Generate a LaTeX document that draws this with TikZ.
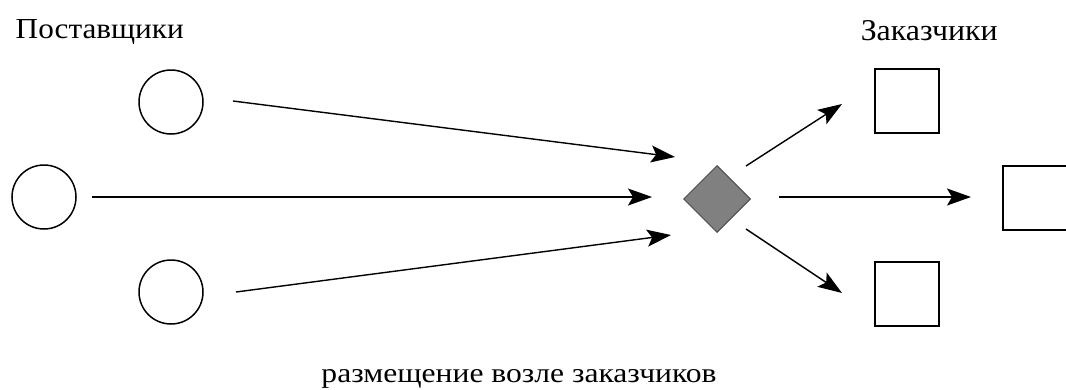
\documentclass[tikz,border=0pt]{standalone}
\usepackage{fontspec}
\setmainfont{Liberation Serif}
\usetikzlibrary{arrows.meta,shapes.geometric}
\begin{document}
\begin{tikzpicture}[x=1pt,y=-1pt,
  line width=1.5pt,
  lbl/.style={font=\fontsize{26}{30}\selectfont, inner sep=0pt},
  supplier/.style={circle, draw, minimum size=64pt, inner sep=0pt},
  customer/.style={rectangle, draw, minimum size=64pt, inner sep=0pt},
  hubnode/.style={diamond, draw=black!70, line width=1pt, fill=black!50, aspect=1, minimum size=67pt, inner sep=0pt},
  arr/.style={-{Stealth[length=24pt,width=17pt,inset=5pt]}, line width=1.4pt}]
\useasboundingbox (0,0) rectangle (1066,389);

% labels
\node[lbl, anchor=base west] (sup) at (15,38) {\resizebox{168pt}{19pt}{Поставщики}};
\node[lbl, anchor=base west] (cus) at (860,40) {\resizebox{137pt}{20pt}{Заказчики}};
\node[lbl, anchor=base] (cap) at (519,382) {\resizebox{395pt}{13pt}{размещение возле заказчиков}};

% suppliers
\node[supplier] (s1) at (171,102) {};
\node[supplier] (s2) at (44,197) {};
\node[supplier] (s3) at (171,292) {};

% warehouse
\node[hubnode] (hub) at (717,199) {};

% customers
\node[customer] (c1) at (907,101) {};
\node[customer] (c2) at (1035,198) {};
\node[customer] (c3) at (907,294) {};

% connector ends
\coordinate (i1a) at (233,101); \coordinate (i1b) at (675,157);
\coordinate (i2a) at (92,197);  \coordinate (i2b) at (652,197);
\coordinate (i3a) at (236,292); \coordinate (i3b) at (671,235);
\coordinate (o1a) at (746,166); \coordinate (o1b) at (842,104);
\coordinate (o2a) at (779,197); \coordinate (o2b) at (971,197);
\coordinate (o3a) at (746,229); \coordinate (o3b) at (842,293);

\draw[arr] (i1a) -- (i1b);
\draw[arr] (i2a) -- (i2b);
\draw[arr] (i3a) -- (i3b);
\draw[arr] (o1a) -- (o1b);
\draw[arr] (o2a) -- (o2b);
\draw[arr] (o3a) -- (o3b);
\end{tikzpicture}
\end{document}
